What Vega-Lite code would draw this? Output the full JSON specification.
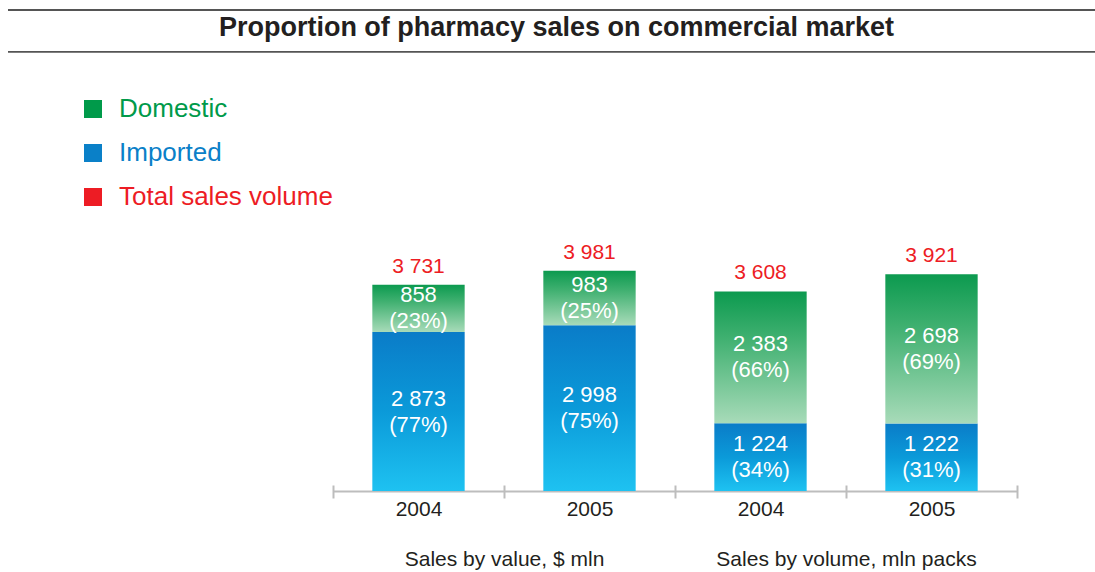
{
  "$schema": "https://vega.github.io/schema/vega-lite/v6.json",
  "width": 1087,
  "height": 481,
  "autosize": {"type": "none"},
  "padding": {"left": 8, "top": 10, "right": 0, "bottom": 81},
  "background": "white",
  "config": {
    "font": "Liberation Sans",
    "view": {"stroke": null},
    "locale": {"number": {"decimal": ".", "thousands": " ", "grouping": [3], "currency": ["", ""]}}
  },
  "title": {
    "text": "Proportion of pharmacy sales on commercial market",
    "orient": "top",
    "anchor": "middle",
    "frame": "group",
    "offset": -46,
    "baseline": "middle",
    "fontSize": 27,
    "fontWeight": "bold",
    "color": "#231f20",
    "dx": 5
  },
  "datasets": {
    "segments": [
      {"key": "value 2004", "series": "Imported", "value": 2873, "share": "(77%)"},
      {"key": "value 2004", "series": "Domestic", "value": 858, "share": "(23%)"},
      {"key": "value 2005", "series": "Imported", "value": 2998, "share": "(75%)"},
      {"key": "value 2005", "series": "Domestic", "value": 983, "share": "(25%)"},
      {"key": "volume 2004", "series": "Imported", "value": 1224, "share": "(34%)"},
      {"key": "volume 2004", "series": "Domestic", "value": 2383, "share": "(66%)"},
      {"key": "volume 2005", "series": "Imported", "value": 1222, "share": "(31%)"},
      {"key": "volume 2005", "series": "Domestic", "value": 2698, "share": "(69%)"}
    ],
    "totals": [
      {"key": "value 2004", "total": 3731},
      {"key": "value 2005", "total": 3981},
      {"key": "volume 2004", "total": 3608},
      {"key": "volume 2005", "total": 3921}
    ],
    "groups": [
      {"group": "Sales by value, $ mln"},
      {"group": "Sales by volume, mln packs"}
    ]
  },
  "layer": [
    {
      "layer": [
        {
          "data": {"name": "segments"},
          "mark": {"type": "bar", "width": {"band": 0.54}},
          "encoding": {
            "x": {
              "field": "key", "type": "nominal", "sort": null,
              "scale": {"range": [325, 1009], "paddingInner": 0, "paddingOuter": 0},
              "axis": {
                "title": null, "domain": false, "tickBand": "extent", "tickSize": 13,
                "tickWidth": 2, "tickColor": "#bdbdbd", "offset": -6,
                "labelExpr": "slice(datum.label, -4)", "labelFontSize": 21,
                "labelColor": "#231f20", "labelPadding": 0, "labelAngle": 0
              }
            },
            "y": {
              "field": "value", "type": "quantitative", "stack": "zero",
              "scale": {"domain": [0, 8698], "nice": false},
              "axis": null
            },
            "order": {"field": "series", "sort": "descending"},
            "fill": {
              "condition": {
                "test": "datum.series === 'Domestic'",
                "value": {"gradient": "linear", "x1": 0, "y1": 0, "x2": 0, "y2": 1,
                  "stops": [{"offset": 0, "color": "#0c9a4f"}, {"offset": 0.35, "color": "#3fb070"}, {"offset": 1, "color": "#a8dbb9"}]}
              },
              "value": {"gradient": "linear", "x1": 0, "y1": 0, "x2": 0, "y2": 1,
                "stops": [{"offset": 0, "color": "#0a7cc8"}, {"offset": 0.5, "color": "#0b9ad9"}, {"offset": 1, "color": "#1ec2f1"}]}
            }
          }
        },
        {
          "data": {"name": "segments"},
          "mark": {"type": "text", "color": "white", "fontSize": 22, "dy": -13, "baseline": "middle"},
          "encoding": {
            "x": {"field": "key", "type": "nominal", "sort": null},
            "y": {"field": "value", "type": "quantitative", "stack": "zero", "bandPosition": 0.5},
            "order": {"field": "series", "sort": "descending"},
            "detail": {"field": "series"},
            "text": {"field": "value", "type": "quantitative", "format": ","}
          }
        },
        {
          "data": {"name": "segments"},
          "mark": {"type": "text", "color": "white", "fontSize": 22, "dy": 13, "baseline": "middle"},
          "encoding": {
            "x": {"field": "key", "type": "nominal", "sort": null},
            "y": {"field": "value", "type": "quantitative", "stack": "zero", "bandPosition": 0.5},
            "order": {"field": "series", "sort": "descending"},
            "detail": {"field": "series"},
            "text": {"field": "share", "type": "nominal"}
          }
        },
        {
          "data": {"name": "totals"},
          "mark": {"type": "text", "fontSize": 21, "dy": -12, "baseline": "alphabetic"},
          "encoding": {
            "x": {"field": "key", "type": "nominal", "sort": null},
            "y": {"field": "total", "type": "quantitative"},
            "color": {
              "datum": "Total sales volume", "type": "nominal",
              "scale": {"domain": ["Domestic", "Imported", "Total sales volume"], "range": ["#009a4a", "#0a80c8", "#ed1c24"]},
              "legend": {
                "orient": "none", "legendX": 72, "legendY": 86, "title": null,
                "symbolType": "square", "symbolSize": 324, "symbolStrokeWidth": 0, "symbolOpacity": 1,
                "labelFontSize": 26, "labelOffset": 13, "rowPadding": 18, "labelLimit": 400,
                "padding": 0,
                "labelColor": {"expr": "datum.value === 'Domestic' ? '#009a4a' : datum.value === 'Imported' ? '#0a80c8' : '#ed1c24'"}
              }
            },
            "text": {"field": "total", "type": "quantitative", "format": ","}
          }
        }
      ]
    },
    {
      "data": {"name": "groups"},
      "mark": {"type": "text", "text": ""},
      "encoding": {
        "x": {
          "field": "group", "type": "nominal", "sort": null,
          "scale": {"range": [325, 1009], "paddingInner": 0, "paddingOuter": 0},
          "axis": {
            "orient": "bottom",
            "title": null, "domain": true, "domainColor": "#bdbdbd", "domainWidth": 2,
            "ticks": false, "labelPadding": 57, "labelFontSize": 21, "labelColor": "#231f20",
            "labelAngle": 0, "labelLimit": 400
          }
        }
      }
    },
    {
      "data": {"values": [{}]},
      "mark": {"type": "rule", "color": "#555555", "strokeWidth": 1.8},
      "encoding": {"y": {"datum": 8698}}
    },
    {
      "data": {"values": [{}]},
      "mark": {"type": "rule", "color": "#555555", "strokeWidth": 1.8},
      "encoding": {"y": {"datum": 7939}}
    }
  ],
  "resolve": {"scale": {"x": "independent"}, "axis": {"x": "independent"}}
}
